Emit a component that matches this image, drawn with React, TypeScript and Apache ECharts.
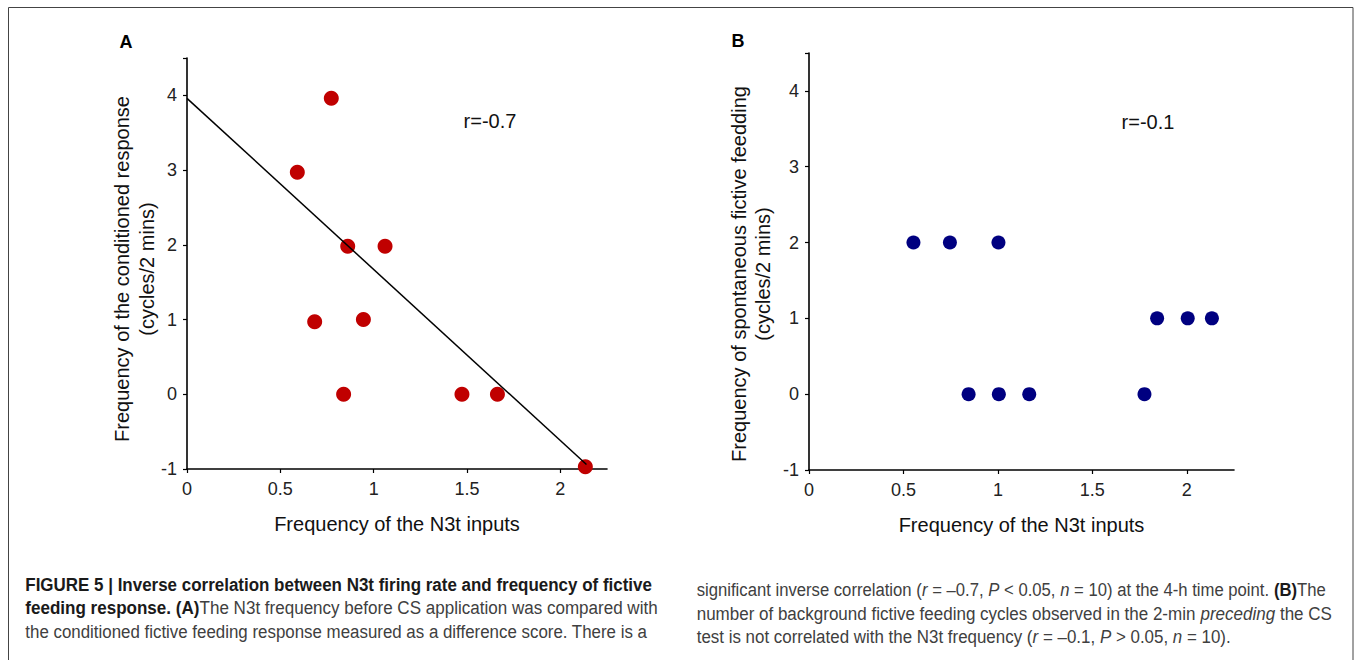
import React, { useEffect, useRef } from "react";
import * as echarts from "echarts";

// Panel A: N3t input frequency vs conditioned response
const xA = [0.773, 0.591, 0.861, 1.061, 0.684, 0.945, 0.839, 1.473, 1.663, 2.134];
const yA = [3.96, 2.97, 1.98, 1.98, 0.97, 1.0, 0, 0, 0, -0.97];
// regression line endpoints
const fitX = [0, 2.14];
const fitY = [3.96, -0.94];
// Panel B: N3t input frequency vs spontaneous fictive feeding
const xB = [0.553, 0.746, 1.003, 0.845, 1.005, 1.166, 1.776, 1.843, 2.005, 2.133];
const yB = [2, 2, 2, 0, 0, 0, 0, 1, 1, 1];

const xName = "Frequency of the N3t inputs";
const yNameA = ["Frequency of the conditioned response", "(cycles/2 mins)"];
const yNameB = ["Frequency of spontaneous fictive feedding", "(cycles/2 mins)"];
const rA = "r=-0.7";
const rB = "r=-0.1";

const captionLeft = [
  "{b|FIGURE 5 | Inverse correlation between N3t firing rate and frequency of fictive}",
  "{b|feeding response. (A)}The N3t frequency before CS application was compared with",
  "the conditioned fictive feeding response measured as a difference score. There is a",
];
const captionRight = [
  "significant inverse correlation ({i|r} = –0.7, {i|P} < 0.05, {i|n} = 10) at the 4-h time point. {b|(B)}The",
  "number of background fictive feeding cycles observed in the 2-min {i|preceding} the CS",
  "test is not correlated with the N3t frequency ({i|r} = –0.1, {i|P} > 0.05, {i|n} = 10).",
];
// caption layout: start x, line centres, target line widths
const capLeftX = 25.3;
const capLeftY = [584.5, 608, 631.5];
const capLeftW = [627, 633, 622];
const capRightX = 696.7;
const capRightY = [590, 613.5, 637];
const capRightW = [629, 635, 534];

const FONT = "Liberation Sans, Arial, Helvetica, sans-serif";
const CAP_SIZE = 19;

function measureLine(ctx: CanvasRenderingContext2D, line: string) {
  let w = 0;
  const re = /\{(\w+)\|([^}]*)\}/g;
  let last = 0;
  let m: RegExpExecArray | null;
  const seg = (txt: string, kind: string) => {
    const weight = kind === "b" ? "bold" : "normal";
    const style = kind === "i" ? "italic" : "normal";
    ctx.font = `${style} ${weight} ${CAP_SIZE}px ${FONT}`;
    w += ctx.measureText(txt).width;
  };
  while ((m = re.exec(line))) {
    if (m.index > last) seg(line.slice(last, m.index), "n");
    seg(m[2], m[1]);
    last = m.index + m[0].length;
  }
  if (last < line.length) seg(line.slice(last), "n");
  return w;
}

function axisX(gridIndex: number) {
  return {
    type: "value",
    gridIndex,
    min: 0,
    max: 2.25,
    interval: 0.5,
    name: xName,
    nameLocation: "middle",
    nameGap: 45,
    nameTextStyle: { fontSize: 20, color: "#111", fontFamily: FONT },
    axisLine: { show: true, onZero: false, lineStyle: { color: "#000", width: 1.6 } },
    axisTick: { show: true, inside: false, length: 4, lineStyle: { color: "#000", width: 1.2 } },
    axisLabel: {
      fontSize: 18,
      color: "#222",
      fontFamily: FONT,
      margin: 11,
      showMaxLabel: false,
      formatter: (v: number) => (v > 2.01 ? "" : String(v)),
    },
    splitLine: { show: false },
  };
}

function axisY(gridIndex: number) {
  return {
    type: "value",
    gridIndex,
    min: -1,
    max: 4.5,
    interval: 1,
    axisLine: { show: true, onZero: false, lineStyle: { color: "#000", width: 1.6 } },
    axisTick: { show: true, inside: false, length: 4, lineStyle: { color: "#000", width: 1.2 } },
    axisLabel: {
      fontSize: 18,
      color: "#222",
      fontFamily: FONT,
      margin: 10,
      formatter: (v: number) => (v > 4.01 ? "" : String(v)),
    },
    splitLine: { show: false },
  };
}

export default function App() {
  const ref = useRef<HTMLDivElement>(null);
  useEffect(() => {
    if (!ref.current) return;
    const chart = echarts.init(ref.current, null, { renderer: "svg" });
    const ctx = document.createElement("canvas").getContext("2d") as CanvasRenderingContext2D;

    const rich = {
      b: { fontWeight: "bold", fill: "#1a1a1a", fontFamily: FONT, fontSize: CAP_SIZE },
      i: { fontStyle: "italic", fontFamily: FONT, fontSize: CAP_SIZE, fill: "#404040" },
    };
    const captionEls: any[] = [];
    const addLines = (lines: string[], x0: number, ys: number[], ws: number[]) => {
      lines.forEach((t, i) => {
        const natural = measureLine(ctx, t) || ws[i];
        captionEls.push({
          type: "group",
          x: x0,
          y: ys[i],
          scaleX: ws[i] / natural,
          children: [
            {
              type: "text",
              x: 0,
              y: 0,
              style: {
                text: t,
                fontFamily: FONT,
                fontSize: CAP_SIZE,
                fill: "#404040",
                verticalAlign: "middle",
                align: "left",
                rich,
              },
            },
          ],
        });
      });
    };
    addLines(captionLeft, capLeftX, capLeftY, capLeftW);
    addLines(captionRight, capRightX, capRightY, capRightW);

    const option: any = {
      animation: false,
      backgroundColor: "#fff",
      grid: [
        { left: 187, top: 58, width: 420, height: 411, containLabel: false },
        { left: 809, top: 53, width: 425, height: 417, containLabel: false },
      ],
      xAxis: [axisX(0), axisX(1)],
      yAxis: [axisY(0), axisY(1)],
      series: [
        {
          type: "scatter",
          xAxisIndex: 0,
          yAxisIndex: 0,
          symbolSize: 15,
          itemStyle: { color: "#c00000", opacity: 1 },
          data: xA.map((x, i) => [x, yA[i]]),
          z: 2,
        },
        {
          type: "line",
          xAxisIndex: 0,
          yAxisIndex: 0,
          showSymbol: false,
          symbol: "none",
          lineStyle: { color: "#000", width: 1.5 },
          data: fitX.map((x, i) => [x, fitY[i]]),
          z: 3,
        },
        {
          type: "scatter",
          xAxisIndex: 1,
          yAxisIndex: 1,
          symbolSize: 14,
          itemStyle: { color: "#000080", opacity: 1 },
          data: xB.map((x, i) => [x, yB[i]]),
        },
      ],
      graphic: [
        {
          type: "rect",
          shape: { x: 8.5, y: 7.5, width: 1344.5, height: 680 },
          style: { fill: "none", stroke: "#444", lineWidth: 1 },
          silent: true,
        },
        {
          type: "text",
          x: 126,
          y: 42,
          style: { text: "A", fontFamily: FONT, fontWeight: "bold", fontSize: 18, fill: "#000", align: "center", verticalAlign: "middle" },
        },
        {
          type: "text",
          x: 738,
          y: 41,
          style: { text: "B", fontFamily: FONT, fontWeight: "bold", fontSize: 18, fill: "#000", align: "center", verticalAlign: "middle" },
        },
        {
          type: "text",
          x: 490,
          y: 121,
          style: { text: rA, fontFamily: FONT, fontSize: 20, fill: "#111", align: "center", verticalAlign: "middle" },
        },
        {
          type: "text",
          x: 1148,
          y: 122,
          style: { text: rB, fontFamily: FONT, fontSize: 20, fill: "#111", align: "center", verticalAlign: "middle" },
        },
        {
          type: "text",
          x: 134,
          y: 269,
          rotation: Math.PI / 2,
          style: {
            text: yNameA.join("\n"),
            fontFamily: FONT,
            fontSize: 20,
            lineHeight: 25,
            fill: "#111",
            align: "center",
            verticalAlign: "middle",
          },
        },
        {
          type: "text",
          x: 751,
          y: 274,
          rotation: Math.PI / 2,
          style: {
            text: yNameB.join("\n"),
            fontFamily: FONT,
            fontSize: 20,
            lineHeight: 24,
            fill: "#111",
            align: "center",
            verticalAlign: "middle",
          },
        },
        ...captionEls,
      ],
    };
    chart.setOption(option);
    return () => chart.dispose();
  }, []);
  return (
    <div
      ref={ref}
      style={{ position: "absolute", left: 0, top: 0, width: 1354, height: 660, background: "#fff" }}
    />
  );
}
